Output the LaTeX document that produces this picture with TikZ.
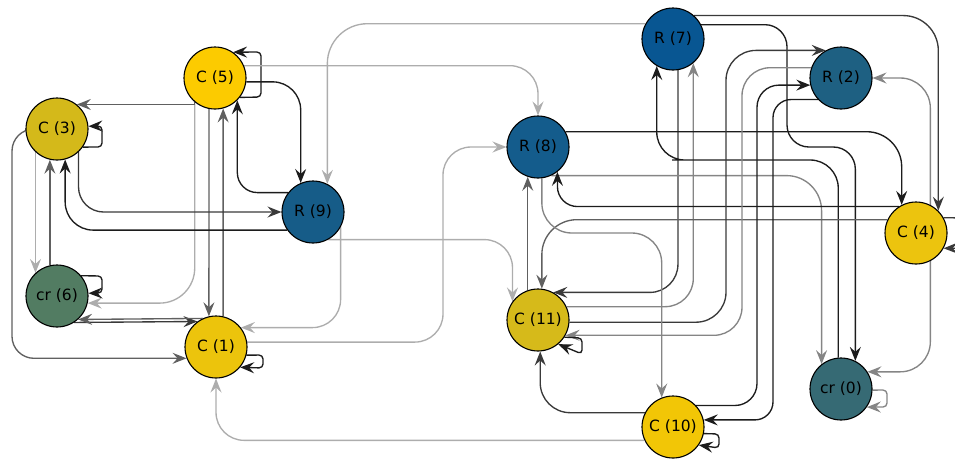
\documentclass[tikz,border=0pt]{standalone}
\usepackage{fontspec}
\setmainfont{DejaVu Sans}
\usetikzlibrary{arrows.meta}
\pgfdeclarelayer{bg}
\pgfsetlayers{bg,main}
\definecolor{ck0}{HTML}{1C1C1C}
\definecolor{ck1}{HTML}{3A3A3A}
\definecolor{ck2}{HTML}{606060}
\definecolor{ck3}{HTML}{858585}
\definecolor{ck4}{HTML}{ADADAD}
\definecolor{yA}{HTML}{FCCB00}
\definecolor{yB}{HTML}{D4B91A}
\definecolor{yC}{HTML}{ECC40C}
\definecolor{yD}{HTML}{D6BA1A}
\definecolor{yE}{HTML}{F2C606}
\definecolor{yF}{HTML}{ECC40E}
\definecolor{bA}{HTML}{165C88}
\definecolor{bB}{HTML}{145C8C}
\definecolor{bC}{HTML}{085692}
\definecolor{bD}{HTML}{1E6082}
\definecolor{gA}{HTML}{527C62}
\definecolor{gB}{HTML}{366A74}
\begin{document}
\begin{tikzpicture}[x=1pt,y=-1pt,
  vtx/.style={circle,draw=black,line width=1.1pt,minimum size=62pt,inner sep=0pt,
    font=\fontsize{15.5}{18}\selectfont},
  lnk/.style={line width=1.35pt,-{Stealth[length=14pt,width=11pt,inset=5pt]},rounded corners=#1},
  lnk/.default=28pt,
  k0/.style={draw=ck0},k1/.style={draw=ck1},k2/.style={draw=ck2},
  k3/.style={draw=ck3},k4/.style={draw=ck4}]
\useasboundingbox (0,0) rectangle (955,459);
\clip (0,0) rectangle (955,459);
\node[vtx,fill=gB] (n0) at (841,389) {cr (0)};
\node[vtx,fill=yC] (n1) at (216,347) {C (1)};
\node[vtx,fill=bD] (n2) at (841,78) {R (2)};
\node[vtx,fill=yB] (n3) at (57,129) {C (3)};
\node[vtx,fill=yF] (n4) at (916,233) {C (4)};
\node[vtx,fill=yA] (n5) at (215,78) {C (5)};
\node[vtx,fill=gA] (n6) at (57,296) {cr (6)};
\node[vtx,fill=bC] (n7) at (673,39) {R (7)};
\node[vtx,fill=bB] (n8) at (538,147) {R (8)};
\node[vtx,fill=bA] (n9) at (313,212) {R (9)};
\node[vtx,fill=yE] (n10) at (673,427) {C (10)};
\node[vtx,fill=yD] (n11) at (538,320) {C (11)};
\begin{pgfonlayer}{bg}
% C(5)
\draw[lnk=4pt,k0] (n5.-38) -- (261,97) -- (261,52) -- (n5.55);
\draw[lnk,k0] (n5.-7) -| (n9.113);
\draw[lnk=20pt,k0] (n9.142) -| (n5.-45);
\draw[lnk,k2] (n1.77) -- (n5.-75);
\draw[lnk,k2] (n5.-101) -- (n1.103);
\draw[lnk=35pt,k4] (n5.-130) |- (n6.-13);
\draw[lnk=0pt,k2] (n5.-130) |- (n3.51);
\draw[lnk,k4] (n5.23) -| (n8.north);
% C(3)
\draw[lnk=4pt,k0] (n3.-35) -- (102,147) -- (102,126) -- (n3.5);
\draw[lnk,k4] (n3.-133) -- (n6.133);
\draw[lnk,k2] (n6.103) -- (n3.-103);
\draw[lnk,k0] (n9.215) -| (n3.-75);
\draw[lnk=25pt,k1] (n3.-47) |- (n9.west);
\draw[lnk=22pt,k2] (n3.west) -| (12,250) |- (n1.201);
% cr(6), C(1)
\draw[lnk,k1] (n6.-57) -- (n1.126);
\draw[lnk,k2] (n1.115) -- (n6.-48);
\draw[lnk=4pt,k0] (n6.40) -- (102,276) -- (102,293) -- (n6.5);
\draw[lnk=4pt,k0] (n1.-15) -- (263,355) -- (263,368) -- (n1.-40);
\draw[lnk,k4] (n9.-29) |- (n1.38);
\draw[lnk,k4] (n1.9) -| (443,240) |- (n8.west);
\draw[lnk,k4] (n10.205) -| (n1.south);
\draw[lnk,k4] (n9.-61) -| (n11.144);
\draw[lnk=40pt,k4] (n7.151) -| (n9.63);
% R(7)
\draw[lnk=35pt,k1] (n7.48) -| (n4.45);
\draw[lnk=22pt,k0] (n7.27) -| (787,147) -| (n0.63);
\draw[lnk,k1] (n7.-81) |- (n11.61);
\draw[lnk,k3] (n11.25) -| (n7.-50);
\draw[lnk,k0] (n0.95) |- (700,160) -| (n7.-121);
% R(8), C(4)
\draw[lnk=35pt,k3] (n8.-65) -| (n0.128);
\draw[lnk=35pt,k0] (n8.29) -| (n4.117);
\draw[lnk=20pt,k0] (n4.123) -| (n8.-52);
\draw[lnk=35pt,k2] (n4.155) -| (n11.83);
\draw[lnk=4pt,k1] (n4.29) -- (970,218) -- (970,248) -- (n4.-29);
% R(2)
\draw[lnk=30pt,k1] (n11.-4) -| (726,200) |- (n2.119);
\draw[lnk=28pt,k3] (n2.161) -| (742,200) |- (n11.-29);
\draw[lnk=22pt,k0] (n10.43) -| (757,250) |- (n2.193);
\draw[lnk=18pt,k0] (n2.223) -| (773,250) |- (n10.13);
\draw[lnk=30pt,k3] (n4.63) |- (n2.east);
\draw[lnk=30pt,k3] (n4.-63) |- (n0.33);
\draw[lnk=4pt,k3] (n0.-2) -- (887,390) -- (887,407) -- (n0.-35);
% C(11), C(10)
\draw[lnk=4pt,k0] (n11.-33) -- (582,338) -- (582,354) -- (n11.-50);
\draw[lnk=4pt,k0] (n10.-12) -- (719,434) -- (719,448) -- (n10.-35);
\draw[lnk=30pt,k1] (n10.153) -| (n11.-86);
\draw[lnk,k2] (n11.109) -- (n8.-109);
\draw[lnk=30pt,k3] (n8.-83) |- (600,233) -| (n10.111);
\end{pgfonlayer}
\end{tikzpicture}
\end{document}
